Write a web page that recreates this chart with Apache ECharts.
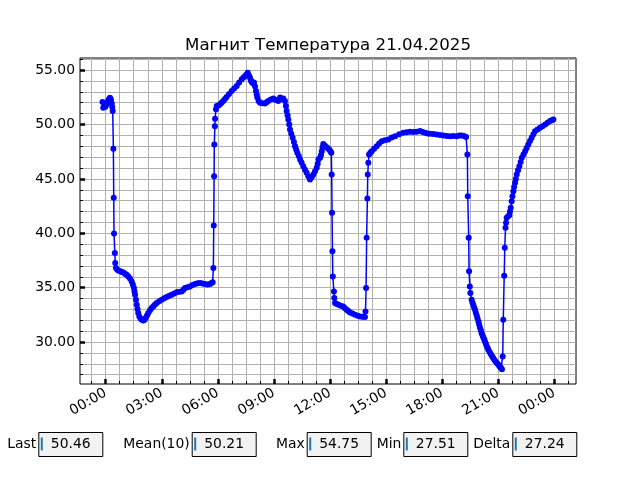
<!DOCTYPE html>
<html><head><meta charset="utf-8">
<script src="https://cdn.jsdelivr.net/npm/echarts@6/dist/echarts.min.js"></script>
<style>html,body{margin:0;padding:0;background:#fff}#c{width:640px;height:480px}</style>
</head><body><div id="c"></div><script>
const chartTitle = 'Магнит Температура 21.04.2025';
// hours relative to 21.04.2025 00:00
const hours = [
-0.17,-0.13,-0.08,-0.04,0.00,0.05,0.10,0.14,0.19,0.23,0.28,0.32,0.35,0.375,
0.41,0.43,0.445,0.49,0.51,
0.55,0.62,0.70,0.78,0.86,0.95,1.03,1.12,1.21,1.30,1.39,1.45,1.51,1.54,1.57,1.62,1.66,1.70,1.74,1.80,1.87,1.94,2.01,2.08,2.14,2.21,2.28,2.37,2.46,2.55,2.64,2.73,2.86,3.00,3.13,3.26,3.40,3.53,3.66,3.80,3.93,4.07,4.16,4.24,4.38,4.51,4.65,4.78,4.92,5.05,5.18,5.31,5.45,5.58,5.65,5.72,
5.76,5.78,5.80,5.81,5.84,5.85,5.90,
5.94,6.03,6.12,6.20,6.29,6.38,6.47,6.60,6.74,6.87,7.01,7.14,7.28,7.38,7.49,7.55,7.60,7.66,7.72,7.77,7.81,7.87,7.93,7.99,8.04,8.08,8.11,8.18,8.26,8.39,8.52,8.61,8.70,8.83,8.97,9.10,9.23,9.33,9.42,9.50,9.59,9.64,9.68,9.73,9.77,9.82,9.86,9.93,10.00,10.07,10.13,10.19,10.25,10.33,10.40,10.48,10.57,10.66,10.75,10.84,10.93,11.02,11.11,11.20,11.29,11.34,11.38,11.47,11.52,11.56,11.60,11.64,11.73,11.82,11.89,11.96,12.02,12.07,
12.09,12.11,12.13,12.15,12.21,12.23,
12.27,12.36,12.45,12.58,12.71,12.80,12.89,12.98,13.07,13.20,13.34,13.48,13.61,13.74,13.87,
13.90,13.93,13.96,14.00,14.02,14.05,
14.09,14.16,14.23,14.36,14.50,14.63,14.77,14.94,15.12,15.30,15.48,15.70,15.92,16.10,16.28,16.46,16.64,16.82,16.95,17.08,17.22,17.35,17.53,17.71,17.88,18.06,18.24,18.42,18.60,18.78,18.92,19.05,19.17,19.28,
19.35,19.37,19.42,19.44,19.48,19.51,
19.58,19.62,19.67,19.71,19.76,19.80,19.85,19.89,19.94,19.98,20.02,20.07,20.11,20.16,20.20,20.25,20.29,20.34,20.38,20.43,20.47,20.54,20.60,20.67,20.73,20.80,20.87,20.94,21.01,21.06,21.10,21.15,21.20,
21.24,21.27,21.32,21.35,21.39,21.42,
21.45,21.52,21.59,21.63,21.67,21.72,21.76,21.81,21.85,21.90,21.94,21.99,22.06,22.13,22.20,22.26,22.35,22.44,22.52,22.61,22.70,22.79,22.88,22.97,23.10,23.24,23.37,23.51,23.64,23.77,23.86,23.95];
const temps = [
52.06,51.55,51.60,51.60,51.70,51.85,52.00,52.22,52.35,52.45,52.30,51.95,51.60,51.25,
47.77,43.26,39.97,38.20,37.27,
36.81,36.65,36.55,36.50,36.45,36.40,36.29,36.20,36.04,35.85,35.58,35.30,34.97,34.65,34.36,33.90,33.43,33.05,32.67,32.35,32.15,32.05,31.99,32.05,32.21,32.45,32.67,32.92,33.13,33.30,33.45,33.59,33.75,33.90,34.02,34.14,34.25,34.36,34.47,34.57,34.62,34.66,34.80,34.97,35.05,35.12,35.25,35.34,35.40,35.43,35.38,35.34,35.30,35.34,35.40,35.49,
36.81,40.71,45.25,48.17,49.85,50.53,51.39,
51.69,51.75,51.85,52.00,52.15,52.35,52.52,52.80,53.08,53.30,53.54,53.85,54.15,54.35,54.50,54.62,54.75,54.50,54.30,54.05,53.90,53.80,53.85,53.50,53.08,52.75,52.47,52.15,52.00,51.95,51.92,52.05,52.15,52.30,52.40,52.25,52.15,52.47,52.35,52.40,52.15,51.70,51.23,50.85,50.47,50.00,49.55,49.15,48.78,48.40,48.01,47.70,47.40,47.10,46.79,46.50,46.17,45.85,45.56,45.25,44.95,45.15,45.41,45.70,46.02,46.40,46.79,46.94,47.20,47.55,47.90,48.20,48.05,47.90,47.80,47.71,47.55,47.40,
45.41,41.88,38.34,36.04,34.66,34.05,
33.59,33.50,33.43,33.35,33.28,33.12,32.97,32.85,32.73,32.62,32.51,32.43,32.36,32.32,32.30,
32.82,34.97,39.58,43.20,45.41,46.48,
47.25,47.40,47.55,47.78,48.01,48.25,48.47,48.55,48.63,48.80,48.93,49.10,49.24,49.28,49.33,49.30,49.33,49.40,49.30,49.24,49.18,49.15,49.12,49.09,49.03,49.00,48.95,48.93,48.95,48.93,49.00,49.00,48.95,48.84,
47.25,43.41,39.58,36.50,35.12,34.51,
33.90,33.62,33.40,33.18,32.97,32.70,32.45,32.18,31.90,31.62,31.35,31.08,30.83,30.64,30.45,30.25,30.06,29.85,29.65,29.47,29.29,29.10,28.90,28.71,28.53,28.36,28.20,28.05,27.91,27.80,27.70,27.61,27.51,
28.67,32.05,36.10,38.66,40.50,40.96,
41.42,41.55,41.66,42.00,42.34,42.95,43.40,43.87,44.25,44.64,45.00,45.41,45.80,46.17,46.55,46.94,47.25,47.55,47.85,48.17,48.48,48.78,49.10,49.39,49.55,49.71,49.85,50.01,50.15,50.31,50.40,50.46];
const xMajorTicks = [0,3,6,9,12,15,18,21,24];
const xMinorTicks = [-0.75,0,0.75,1.5,2.25,3,3.75,4.5,5.25,6,6.75,7.5,8.25,9,9.75,10.5,11.25,12,12.75,13.5,14.25,15,15.75,16.5,17.25,18,18.75,19.5,20.25,21,21.75,22.5,23.25,24,24.75];
const yMajorTicks = [30,35,40,45,50,55];
const yMinorTicks = [27,28,29,30,31,32,33,34,35,36,37,38,39,40,41,42,43,44,45,46,47,48,49,50,51,52,53,54,55,56];
const statLabels = ['Last','Mean(10)','Max','Min','Delta'];
const statValues = ['50.46','50.21','54.75','27.51','27.24'];

const FONT = 'DejaVu Sans';
const X_MIN = -1.375, X_MAX = 25.161, Y_MIN = 26.148, Y_MAX = 56.112;
function hhmm(v){ let h = ((Math.round(v*60) % 1440) + 1440) % 1440; const hh = Math.floor(h/60), mm = h%60; return String(hh).padStart(2,'0')+':'+String(mm).padStart(2,'0'); }

const boxLeft = [38.3,191.7,306.7,403.3,512.3];
const graphics = [];
statLabels.forEach((lab,i)=>{
  const bx = boxLeft[i];
  graphics.push({type:'text', x: bx-2, y: 444, style:{text: lab, font:'13.9px '+FONT, fill:'#000', align:'right', verticalAlign:'middle'}});
  graphics.push({type:'rect', shape:{x: bx+0.5, y: 432.5, width: 64, height: 24}, style:{fill:'#f2f2f2', stroke:'#000', lineWidth:1}});
  graphics.push({type:'rect', shape:{x: bx+2.5, y: 437.5, width: 2, height: 13}, style:{fill:'#1f77b4'}});
  graphics.push({type:'text', x: bx+12.5, y: 444, style:{text: statValues[i], font:'13.9px '+FONT, fill:'#000', align:'left', verticalAlign:'middle'}});
});

const chart = echarts.init(document.getElementById('c'), null, {renderer:'canvas'});
chart.setOption({
  animation:false,
  backgroundColor:'#fff',
  title:{text: chartTitle, left: 323, top: 32, textAlign:'center', textStyle:{fontFamily:FONT, fontSize:16.67, fontWeight:'normal', color:'#000'}},
  grid:{left:80, top:58, width:496, height:326, show:true, borderColor:'#000', borderWidth:1, backgroundColor:'transparent'},
  xAxis:[
    {type:'value', min:X_MIN, max:X_MAX, position:'bottom',
     axisLine:{show:false, onZero:false},
     axisTick:{show:true, inside:true, length:5, customValues:xMajorTicks, lineStyle:{color:'#000', width:2.5}},
     axisLabel:{show:true, customValues:xMajorTicks, rotate:30, margin:8, formatter:hhmm, fontFamily:FONT, fontSize:13.9, color:'#000'},
     splitLine:{show:false}},
    {type:'value', min:X_MIN, max:X_MAX, position:'bottom',
     axisLine:{show:false, onZero:false},
     axisTick:{show:true, inside:true, length:3, customValues:xMinorTicks, lineStyle:{color:'#000', width:1}},
     axisLabel:{show:false},
     splitLine:{show:true, lineStyle:{color:'#b0b0b0', width:1}}}
  ],
  yAxis:[
    {type:'value', min:Y_MIN, max:Y_MAX, position:'left',
     axisLine:{show:false, onZero:false},
     axisTick:{show:true, inside:true, length:5, customValues:yMajorTicks, lineStyle:{color:'#000', width:2.5}},
     axisLabel:{show:true, customValues:yMajorTicks, margin:5, formatter:v=>v.toFixed(2), fontFamily:FONT, fontSize:13.9, color:'#000'},
     splitLine:{show:false}},
    {type:'value', min:Y_MIN, max:Y_MAX, position:'left',
     axisLine:{show:false, onZero:false},
     axisTick:{show:true, inside:true, length:3, customValues:yMinorTicks, lineStyle:{color:'#000', width:1}},
     axisLabel:{show:false},
     splitLine:{show:true, lineStyle:{color:'#b0b0b0', width:1}}}
  ],
  series:[{
    type:'line', xAxisIndex:0, yAxisIndex:0,
    data: hours.map((h,i)=>[h, temps[i]]),
    symbol:'circle', symbolSize:6, showSymbol:true,
    itemStyle:{color:'#0000ff'}, lineStyle:{color:'#0000ff', width:1.5},
    z:5
  }],
  graphic: graphics
});
</script></body></html>
